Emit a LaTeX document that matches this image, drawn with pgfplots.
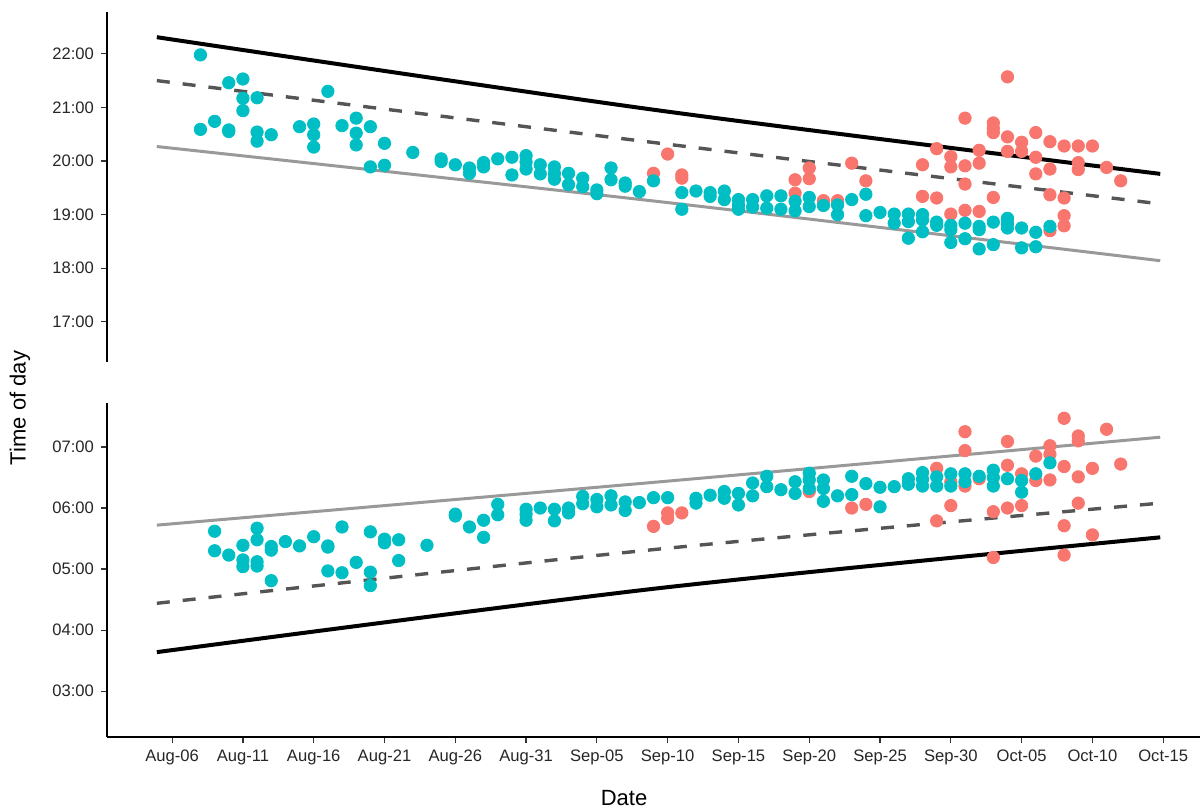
\documentclass[border=0pt]{standalone}
\usepackage{pgfplots}
\pgfplotsset{compat=1.18}
\usepackage{fontspec}
\setmainfont{Liberation Sans}
\definecolor{cy}{HTML}{00BFC4}
\definecolor{rd}{HTML}{F8766D}
\definecolor{dg}{HTML}{555555}
\definecolor{lg}{HTML}{999999}

\pgfplotstableread{
x y
34 19.77
35 20.13
36 19.74
36 19.68
44 19.65
44 19.40
45 19.87
45 19.67
46 19.26
47 19.26
48 19.96
49 19.63
53 19.93
53 19.34
54 20.23
54 19.31
55 20.08
55 19.89
55 19.01
56 20.80
56 19.91
56 19.57
56 19.08
57 20.20
57 19.96
57 19.06
58 20.71
58 20.61
58 20.53
58 19.32
59 21.57
59 20.45
59 20.18
60 20.35
60 20.18
61 20.53
61 20.07
61 19.76
62 20.36
62 19.85
62 19.37
62 18.70
63 20.28
63 19.31
63 18.98
63 18.79
64 20.28
64 19.97
64 19.84
65 20.28
66 19.88
67 19.63
}\redup

\pgfplotstableread{
x y
2 21.98
2 20.59
3 20.74
4 21.46
4 20.58
4 20.55
5 21.53
5 21.17
5 20.94
6 21.18
6 20.54
6 20.37
7 20.49
9 20.64
10 20.69
10 20.49
10 20.26
11 21.30
12 20.66
13 20.80
13 20.52
13 20.30
14 20.64
14 19.89
15 20.33
15 19.92
17 20.16
19 20.04
19 19.99
20 19.93
21 19.87
21 19.77
22 19.97
22 19.89
23 20.04
24 20.07
24 19.74
25 20.10
25 19.98
25 19.85
26 19.93
26 19.76
27 19.89
27 19.77
27 19.66
28 19.77
28 19.56
29 19.68
29 19.52
30 19.46
30 19.39
31 19.87
31 19.65
32 19.59
32 19.53
33 19.43
34 19.63
36 19.41
36 19.10
37 19.44
38 19.41
38 19.34
39 19.44
39 19.28
40 19.28
40 19.18
40 19.10
41 19.28
41 19.14
42 19.35
42 19.12
43 19.35
43 19.10
44 19.25
44 19.07
45 19.32
45 19.15
46 19.17
47 19.18
47 19.00
48 19.28
49 19.38
49 18.98
50 19.04
51 19.01
51 18.84
52 19.01
52 18.87
52 18.56
53 19.00
53 18.90
53 18.68
54 18.86
54 18.80
55 18.80
55 18.72
55 18.48
56 18.84
56 18.55
57 18.78
57 18.72
57 18.36
58 18.86
58 18.44
59 18.93
59 18.84
59 18.75
60 18.75
60 18.38
61 18.67
61 18.40
62 18.78
}\cyanup

\pgfplotstableread{
x y
3 5.62
3 5.30
4 5.23
5 5.39
5 5.15
5 5.04
6 5.67
6 5.48
6 5.12
6 5.05
7 5.37
7 5.31
7 4.81
8 5.45
9 5.38
10 5.53
11 5.38
11 5.36
11 4.97
12 5.69
12 4.94
13 5.11
14 5.61
14 4.95
14 4.73
15 5.49
15 5.43
16 5.48
16 5.14
18 5.39
20 5.90
20 5.87
21 5.69
22 5.80
22 5.52
23 6.06
23 5.89
25 5.98
25 5.90
25 5.80
26 6.00
27 5.98
27 5.79
28 6.00
28 5.92
29 6.19
29 6.07
30 6.14
30 6.02
31 6.20
31 6.05
32 6.10
32 5.96
33 6.09
34 6.17
35 6.17
37 6.16
37 6.08
38 6.21
39 6.27
39 6.16
40 6.24
40 6.05
41 6.41
41 6.20
42 6.52
42 6.35
43 6.30
44 6.43
44 6.24
45 6.57
45 6.46
45 6.32
46 6.46
46 6.32
46 6.11
47 6.20
48 6.52
48 6.22
49 6.40
50 6.34
50 6.02
51 6.35
52 6.48
52 6.39
53 6.58
53 6.47
53 6.36
54 6.51
54 6.36
55 6.56
55 6.36
56 6.56
56 6.43
57 6.52
58 6.62
58 6.50
58 6.36
59 6.48
60 6.45
60 6.26
61 6.56
62 6.74
}\cyanlo

\pgfplotstableread{
x y
34 5.70
35 5.92
35 5.83
36 5.92
45 6.27
48 6.00
49 6.06
54 6.65
54 5.79
55 6.43
55 6.04
56 7.25
56 6.94
56 6.36
57 6.48
58 5.94
58 5.19
59 7.09
59 6.70
59 6.00
60 6.56
60 6.04
61 6.85
61 6.45
62 7.02
62 6.88
62 6.46
63 7.47
63 6.68
63 5.71
63 5.23
64 7.18
64 7.10
64 6.51
64 6.08
65 6.65
65 5.56
66 7.29
67 6.72
}\redlo

\pgfplotsset{
  panel/.style={
    scale only axis, width=546.5pt,
    xmin=-4.6, xmax=72.6,
    axis line style={black, line width=0.6pt, -},
    tick style={black!80, line width=0.6pt},
    tick align=outside, major tick length=3pt,
    tick label style={font=\fontsize{8.3}{10}\selectfont, text=black!85},
    xtick={0,5,...,70},
    xticklabels={Aug-06,Aug-11,Aug-16,Aug-21,Aug-26,Aug-31,Sep-05,Sep-10,Sep-15,Sep-20,Sep-25,Sep-30,Oct-05,Oct-10,Oct-15},
  },
  pts/.style={only marks, color=#1, mark=*, mark size=3.1pt, mark options={solid, draw=#1, fill=#1, line width=0.4pt}},
}

\begin{document}
\begin{tikzpicture}
\useasboundingbox (0,0) rectangle (601pt,405pt);
% upper panel
\begin{axis}[panel, at={(53.5pt,224pt)}, anchor=south west, height=175pt,
  ymin=16.25, ymax=22.78,
  axis x line=none, axis y line*=left,
  ytick={17,18,19,20,21,22},
  yticklabels={17:00,18:00,19:00,20:00,21:00,22:00}]
\addplot[pts=rd] table {\redup};
\addplot[pts=cy] table {\cyanup};
\addplot[black, line width=2pt, smooth] coordinates {(-1.08,22.31) (34.47,20.94) (69.79,19.76)};
\addplot[dg, line width=1.7pt, dash pattern=on 6.5pt off 6.5pt, smooth] coordinates {(-1.08,21.50) (34.47,20.33) (69.79,19.20)};
\addplot[lg, line width=1.5pt, smooth] coordinates {(-1.08,20.27) (34.47,19.24) (69.79,18.14)};
\end{axis}
% lower panel
\begin{axis}[panel, at={(53.5pt,36.5pt)}, anchor=south west, height=167pt,
  ymin=2.25, ymax=7.72,
  axis x line*=bottom, axis y line*=left,
  ytick={3,4,5,6,7},
  yticklabels={03:00,04:00,05:00,06:00,07:00}]
\addplot[pts=rd] table {\redlo};
\addplot[pts=cy] table {\cyanlo};
\addplot[lg, line width=1.5pt, smooth] coordinates {(-1.08,5.72) (34.47,6.43) (69.79,7.16)};
\addplot[dg, line width=1.7pt, dash pattern=on 6.5pt off 6.5pt, smooth] coordinates {(-1.08,4.44) (34.47,5.33) (69.79,6.08)};
\addplot[black, line width=2pt, smooth] coordinates {(-1.08,3.64) (34.47,4.69) (69.79,5.52)};
\end{axis}
\node[rotate=90, font=\fontsize{11}{13}\selectfont] at (10pt,201pt) {Time of day};
\node[font=\fontsize{11}{13}\selectfont] at (312pt,6pt) {Date};
\end{tikzpicture}
\end{document}
